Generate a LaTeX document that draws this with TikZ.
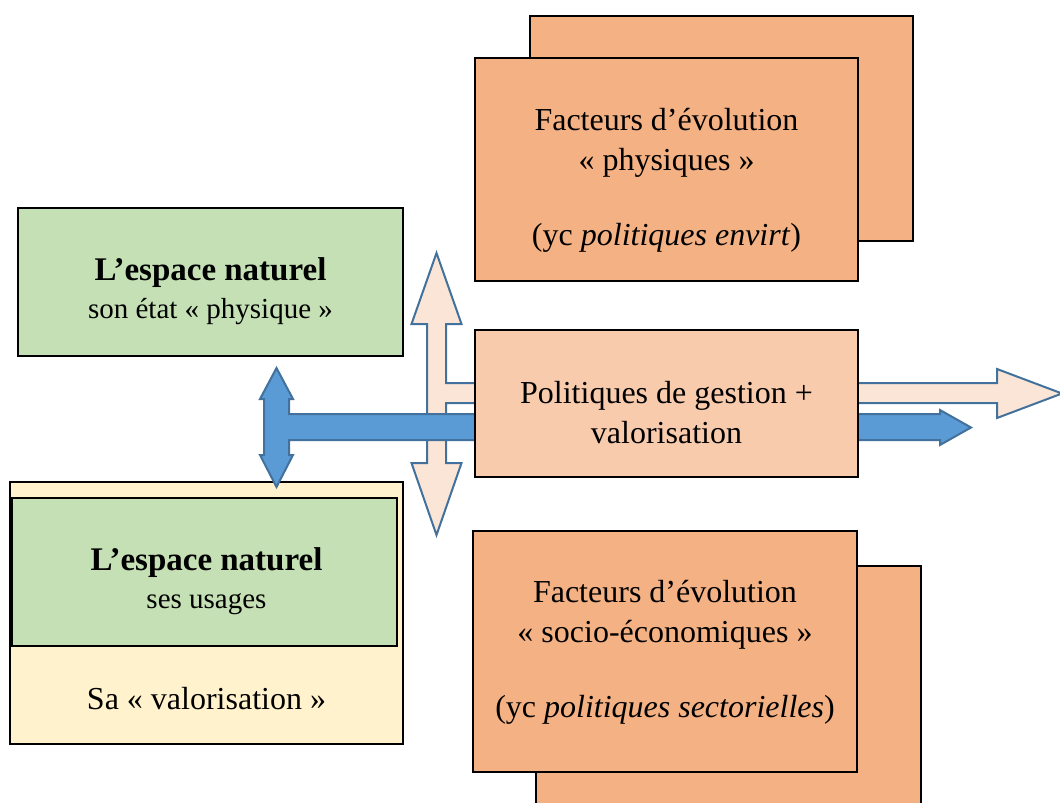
\documentclass[tikz,border=0pt]{standalone}
\usepackage{fontspec}
\setmainfont{Liberation Serif}
\usepackage{tikz}
\usetikzlibrary{calc}

\definecolor{vert}{HTML}{C5E0B4}
\definecolor{creme}{HTML}{FFF2CC}
\definecolor{orange}{HTML}{F4B183}
\definecolor{saumon}{HTML}{F8CBAD}
\definecolor{peche}{HTML}{FBE5D6}
\definecolor{bleu}{HTML}{5B9BD5}
\definecolor{bleufonce}{HTML}{41719C}

\begin{document}
\begin{tikzpicture}
        [
         x=1pt,y=-1pt,
         boite/.style={draw=black,line width=1.5pt,align=center,inner sep=0pt,
                       font=\fontsize{32}{40}\selectfont},
         texte/.style={font=\fontsize{32}{40}\selectfont,align=center},
         fleche/.style={draw=bleufonce,line width=2pt,line join=miter}
        ]
         \useasboundingbox (0,0) rectangle (1060,803);

         % espace naturel : etat physique
         \node[boite,fill=vert,minimum width=385pt,minimum height=148pt] (physique) at (210.5,282) {};
         \node[texte] (physiquetxt) at (210.5,291)
               {{\fontsize{33}{40}\selectfont\textbf{L’espace naturel}}\\[-2pt]{\fontsize{29}{34}\selectfont son état « physique »}};
         % espace naturel : usages et valorisation
         \node[boite,fill=creme,minimum width=393pt,minimum height=262pt] (valeur) at (206.5,613) {};
         \node[boite,fill=vert,minimum width=385pt,minimum height=148pt] (usages) at (204.5,572) {};
         \node[texte] (usagestxt) at (206.5,581)
               {{\fontsize{33}{40}\selectfont\textbf{L’espace naturel}}\\[-2pt]{\fontsize{29}{34}\selectfont ses usages}};
         \node[texte] (sa) at (206.5,699) {Sa « valorisation »};

         % fleche peche : haut, bas et vers la droite
         \draw[fleche,fill=peche] (436.5,253) -- (461.5,324) -- (446,324) -- (446,383)
                -- (997,383) -- (997,369) -- (1062,393.5) -- (997,418) -- (997,403)
                -- (446,403) -- (446,463) -- (461.5,463) -- (436.5,535) -- (411.5,463)
                -- (427,463) -- (427,324) -- (411.5,324) -- cycle;
         % fleche bleue : haut, bas et vers la droite
         \draw[fleche,fill=bleu] (276.5,368) -- (293,399) -- (289,399) -- (289,414)
                -- (940,414) -- (940,410) -- (971,427.5) -- (940,445) -- (940,440)
                -- (289,440) -- (289,455) -- (293,455) -- (276.5,487) -- (260,455)
                -- (264,455) -- (264,399) -- (260,399) -- cycle;

         % politiques de gestion
         \node[boite,fill=saumon,minimum width=383pt,minimum height=147pt] (gestion) at (666.5,403.5) {};
         \node[texte] (gestiontxt) at (666.5,413)
               {Politiques de gestion +\\valorisation};

         % facteurs physiques
         \node[boite,fill=orange,minimum width=383pt,minimum height=225pt] (physarr) at (721.5,128.5) {};
         \node[boite,fill=orange,minimum width=383pt,minimum height=223pt] (phys) at (666.5,169.5) {};
         \node[texte] (phystxt) at (666.5,180)
               {Facteurs d’évolution\\« physiques »\\[35pt](yc \textit{politiques envirt})};

         % facteurs socio-economiques
         \node[boite,fill=orange,minimum width=385pt,minimum height=250pt] (socioarr) at (728.5,691) {};
         \node[boite,fill=orange,minimum width=384pt,minimum height=241pt] (socio) at (665,651.5) {};
         \node[texte] (sociotxt) at (665,652)
               {Facteurs d’évolution\\« socio-économiques »\\[35pt](yc \textit{politiques sectorielles})};
        \end{tikzpicture}
\end{document}
